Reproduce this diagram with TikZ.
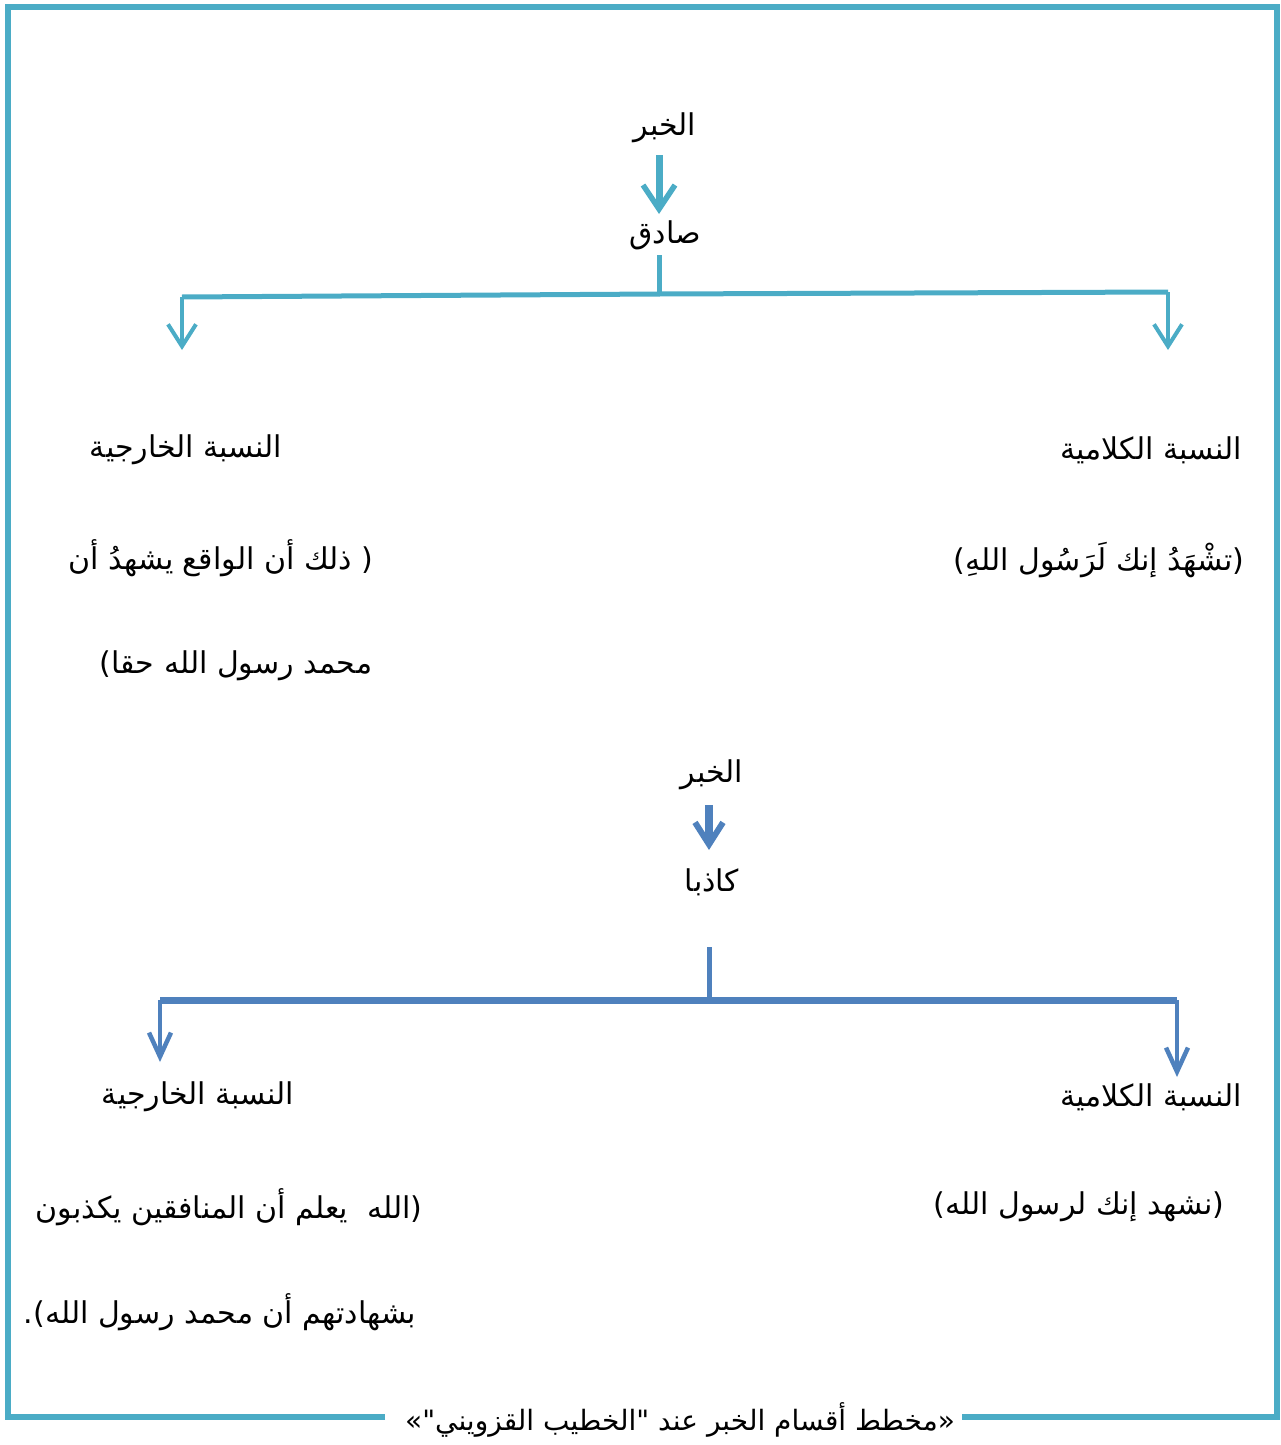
\documentclass[tikz,border=0pt]{standalone}
\usepackage{fontspec}
\usetikzlibrary{arrows.meta}
\TeXXeTstate=1
\newfontfamily\arabicfont[Script=Arabic]{DejaVu Sans}
\newcommand\artext[1]{{\arabicfont\beginR #1\endR}}
\definecolor{aqua}{HTML}{4BACC6}
\definecolor{steel}{HTML}{4F81BD}
\tikzset{
  lbl/.style={inner sep=0pt, font=\fontsize{30}{36}\selectfont},
  captionlbl/.style={inner sep=0pt, font=\fontsize{28}{34}\selectfont},
  aqualine/.style={aqua, line width=5pt},
  steelline/.style={steel, line width=6pt},
  aquadown/.style={aqua, line width=4pt, -{Straight Barb[length=22pt,width=28pt,line width=4pt]}},
  steeldown/.style={steel, line width=4.5pt, -{Straight Barb[length=24pt,width=22pt,line width=4.5pt]}},
  aquamain/.style={aqua, line width=7pt, -{Straight Barb[length=24pt,width=32pt,line width=5.5pt]}},
  steelmain/.style={steel, line width=8pt, -{Straight Barb[length=22pt,width=28pt,line width=6pt]}},
}
\begin{document}
\begin{tikzpicture}[x=1pt,y=-1pt]
\useasboundingbox (0,0) rectangle (1281,1445);

% frame, open at the bottom for the caption
\draw[aqua, line width=6pt, line join=miter]
  (385,1417) -- (8,1417) -- (8,7) -- (1277,7) -- (1277,1417) -- (962,1417);
\node[captionlbl] (caption) at (680,1420) {\artext{«مخطط أقسام الخبر عند "الخطيب القزويني"»}};

% ---- true statement ----
\node[lbl] (khabarA) at (665,128) {\artext{الخبر}};
\node[lbl] (sadiq) at (665,235) {\artext{صادق}};
\coordinate (aS) at (659,155);
\coordinate (aE) at (659,214);
\draw[aquamain] (aS) -- (aE);

\coordinate (bS) at (659,255);
\coordinate (bJ) at (659,294);
\coordinate (bL) at (182,297);
\coordinate (bR) at (1168,292);
\coordinate (bLt) at (182,350);
\coordinate (bRt) at (1168,350);
\draw[aqualine] (bS) -- (bJ);
\draw[aqualine, line join=miter] (bJ) -- (bL);
\draw[aqualine, line join=miter] (bJ) -- (bR);
\draw[aquadown] (bL) -- (bLt);
\draw[aquadown] (bR) -- (bRt);

\node[lbl] (kalamA) at (1151,450) {\artext{النسبة الكلامية}};
\node[lbl] (kharijA) at (186,450) {\artext{النسبة الخارجية}};
\node[lbl] (kalamAtxt) at (1099,560) {\artext{(تشْهَدُ إنك لَرَسُول اللهِ)}};
\node[lbl] (kharijAtxt1) at (221,558) {\artext{( ذلك أن الواقع يشهدُ أن}};
\node[lbl] (kharijAtxt2) at (236,666) {\artext{محمد رسول الله حقا)}};

% ---- false statement ----
\node[lbl] (khabarB) at (712,775) {\artext{الخبر}};
\node[lbl] (kadhib) at (712,882) {\artext{كاذبا}};
\coordinate (cS) at (709,805);
\coordinate (cE) at (709,850);
\draw[steelmain] (cS) -- (cE);

\coordinate (dS) at (709,947);
\coordinate (dJ) at (709,1000);
\coordinate (dL) at (160,1000);
\coordinate (dR) at (1177,1000);
\coordinate (dLt) at (160,1062);
\coordinate (dRt) at (1177,1077);
\draw[steelline, line width=5pt] (dS) -- (dJ);
\draw[steelline, line width=7pt] (dL) -- (dR);
\draw[steeldown] (dL) -- (dLt);
\draw[steeldown] (dR) -- (dRt);

\node[lbl] (kalamB) at (1151,1097) {\artext{النسبة الكلامية}};
\node[lbl] (kharijB) at (198,1097) {\artext{النسبة الخارجية}};
\node[lbl] (kalamBtxt) at (1079,1207) {\artext{(نشهد إنك لرسول الله)}};
\node[lbl] (kharijBtxt1) at (229,1207) {\artext{(الله\ \ يعلم أن المنافقين يكذبون}};
\node[lbl] (kharijBtxt2) at (220,1312) {\artext{بشهادتهم أن محمد رسول الله).}};
\end{tikzpicture}
\end{document}
